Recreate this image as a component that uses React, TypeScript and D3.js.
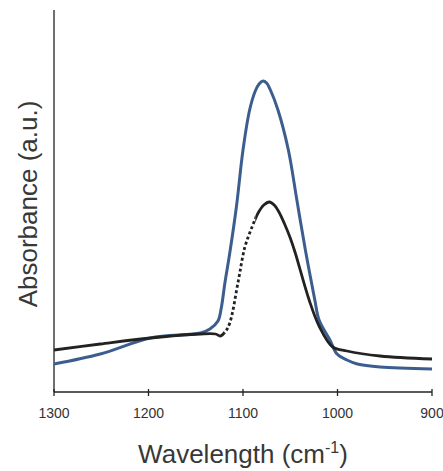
import React from "react";
import * as d3 from "d3";

const xTicks = [1300, 1200, 1100, 1000, 900];

const blueWn = [1300, 1251, 1198, 1145, 1135, 1126.5, 1123, 1119, 1114, 1107, 1100, 1093, 1087, 1083, 1079, 1075, 1071, 1063, 1052, 1043, 1034, 1024, 1019.5, 1008, 1000.5, 990, 979, 955, 900];
const blueAbs = [0.28, 0.38, 0.54, 0.59, 0.63, 0.71, 0.84, 1.1, 1.39, 1.85, 2.42, 2.82, 3.01, 3.08, 3.11, 3.09, 3.02, 2.82, 2.42, 1.92, 1.42, 0.92, 0.72, 0.52, 0.38, 0.32, 0.28, 0.25, 0.23];

const blackWn = [1300, 1251, 1198, 1145, 1129, 1124, 1119, 1114, 1105, 1098, 1090, 1084, 1078, 1072, 1067, 1062, 1056, 1050, 1045, 1030, 1019.5, 1005, 990, 955, 900];
const blackAbs = [0.42, 0.48, 0.54, 0.58, 0.58, 0.56, 0.6, 0.69, 1.11, 1.45, 1.66, 1.79, 1.87, 1.9, 1.87, 1.8, 1.68, 1.54, 1.4, 0.92, 0.66, 0.45, 0.41, 0.36, 0.33];

const dashStart = 1120;
const dashEnd = 1087;

export default function App() {
  const W = 443, H = 471;
  const left = 54, right = 432, top = 10, bottom = 392;
  const x = d3.scaleLinear().domain([1300, 900]).range([left, right]);
  const y = d3.scaleLinear().domain([0, 3.82]).range([bottom, top]);
  const line = d3
    .line<[number, number]>()
    .x((d) => x(d[0]))
    .y((d) => y(d[1]))
    .curve(d3.curveCatmullRom.alpha(0.5));

  const blue: [number, number][] = blueWn.map((w, i) => [w, blueAbs[i]]);
  const black: [number, number][] = blackWn.map((w, i) => [w, blackAbs[i]]);
  const d0 = x(dashStart), d1 = x(dashEnd);

  const font = "Liberation Sans, Arial, sans-serif";
  return (
    <svg width={W} height={H} style={{ position: "absolute", left: 0, top: 0, background: "#fff" }}>
      <defs>
        <clipPath id="outside">
          <rect x={0} y={0} width={d0} height={H} />
          <rect x={d1} y={0} width={W - d1} height={H} />
        </clipPath>
        <clipPath id="inside">
          <rect x={d0} y={0} width={d1 - d0} height={H} />
        </clipPath>
      </defs>
      <line x1={left} x2={left} y1={top} y2={bottom} stroke="#222" strokeWidth={1.3} />
      <line x1={left} x2={right} y1={bottom} y2={bottom} stroke="#222" strokeWidth={1.3} />
      {xTicks.map((t) => (
        <g key={t}>
          <line x1={x(t)} x2={x(t)} y1={bottom - 3} y2={bottom + 4} stroke="#222" strokeWidth={1.3} />
          <text x={x(t)} y={418} textAnchor="middle" fontFamily={font} fontSize={14} fill="#333">
            {t}
          </text>
        </g>
      ))}
      <path d={line(blue) || ""} fill="none" stroke="#3b5e8e" strokeWidth={3} />
      <path d={line(black) || ""} fill="none" stroke="#222" strokeWidth={2.8} clipPath="url(#outside)" />
      <path d={line(black) || ""} fill="none" stroke="#222" strokeWidth={2.8} strokeDasharray="3,2.5" clipPath="url(#inside)" />
      <text x={243} y={463} textAnchor="middle" fontFamily={font} fontSize={26} fill="#383838">
        Wavelength (cm<tspan dy={-10} fontSize={16}>-1</tspan>
        <tspan dy={10}>)</tspan>
      </text>
      <text
        transform={`translate(37,204) rotate(-90)`}
        textAnchor="middle"
        fontFamily={font}
        fontSize={26}
        fill="#383838"
      >
        Absorbance (a.u.)
      </text>
    </svg>
  );
}
